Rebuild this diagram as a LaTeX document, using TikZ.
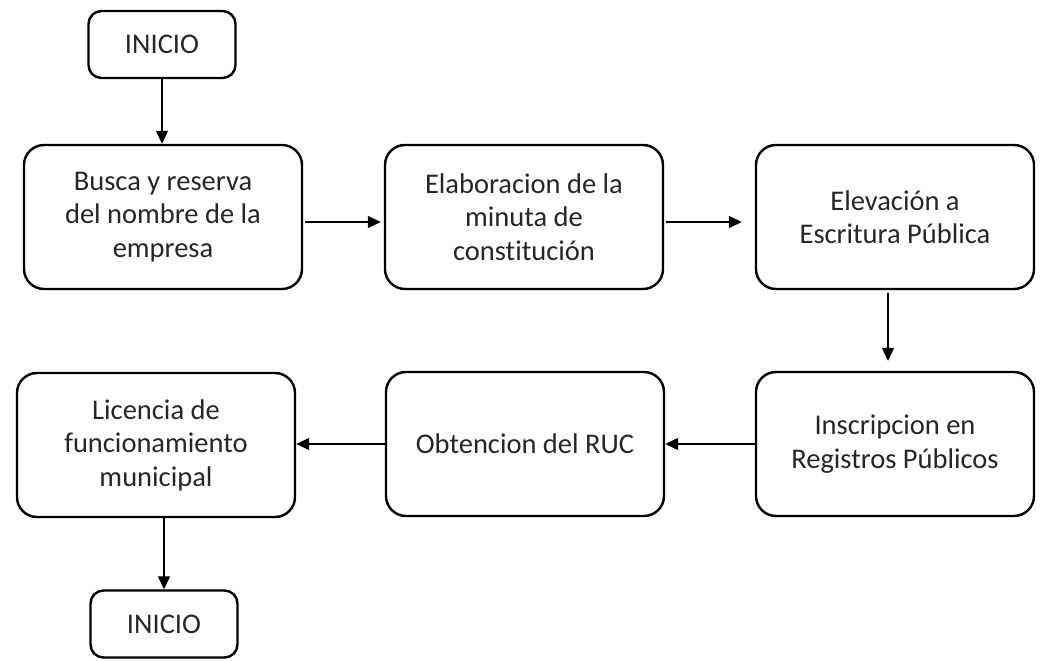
\documentclass[tikz,border=0pt]{standalone}
\usepackage{fontspec}
\setmainfont{Carlito}[Ligatures=NoCommon]
\usetikzlibrary{arrows.meta,positioning}

\begin{document}
\begin{tikzpicture}[x=1pt, y=-1pt,
 paso/.style={draw, line width=2.4pt, rounded corners=20pt, minimum width=278pt, minimum height=144pt,
 align=center, inner sep=0pt, text=black!85, font=\fontsize{28.5}{33.5}\selectfont},
 extremo/.style={paso, rounded corners=13pt, minimum width=147pt, minimum height=67pt},
 flecha/.style={-{Triangle[length=13pt,width=12pt]}, line width=1.3pt}]
 \useasboundingbox (0,0) rectangle (1045,661);

 % Top row
 \node[extremo] (ini) at (162,44.5) {INICIO};
 \node[paso] (busca) at (163,217) {Busca y reserva\\del nombre de la\\empresa};
 \node[paso] (minuta) at (524,217) {Elaboracion de la\\minuta de\\constitución};
 \node[paso] (escritura) at (895,217) {Elevación a\\Escritura Pública};

 % Bottom row
 \node[paso] (registro) at (895,444) {Inscripcion en\\Registros Públicos};
 \node[paso] (ruc) at (525,444) {Obtencion del RUC};
 \node[paso] (licencia) at (156,445) {Licencia de\\funcionamiento\\municipal};
 \node[extremo] (fin) at (164,624) {INICIO};

 % Arrows
 \draw[flecha] (ini) -- (ini |- busca.north);
 \draw[flecha, shorten <=2pt, shorten >=3pt] ([yshift=-5pt]busca.east) -- ([yshift=-5pt]minuta.west);
 \draw[flecha, shorten <=2pt, shorten >=13pt] ([yshift=-5pt]minuta.east) -- ([yshift=-5pt]escritura.west);
 \draw[flecha, shorten <=3pt, shorten >=10pt] ([xshift=-7pt]escritura.south) -- ([xshift=-7pt]registro.north);
 \draw[flecha] (registro) -- (ruc);
 \draw[flecha] (ruc) -- (ruc -| licencia.east);
 \draw[flecha] (fin |- licencia.south) -- (fin);
\end{tikzpicture}
\end{document}
